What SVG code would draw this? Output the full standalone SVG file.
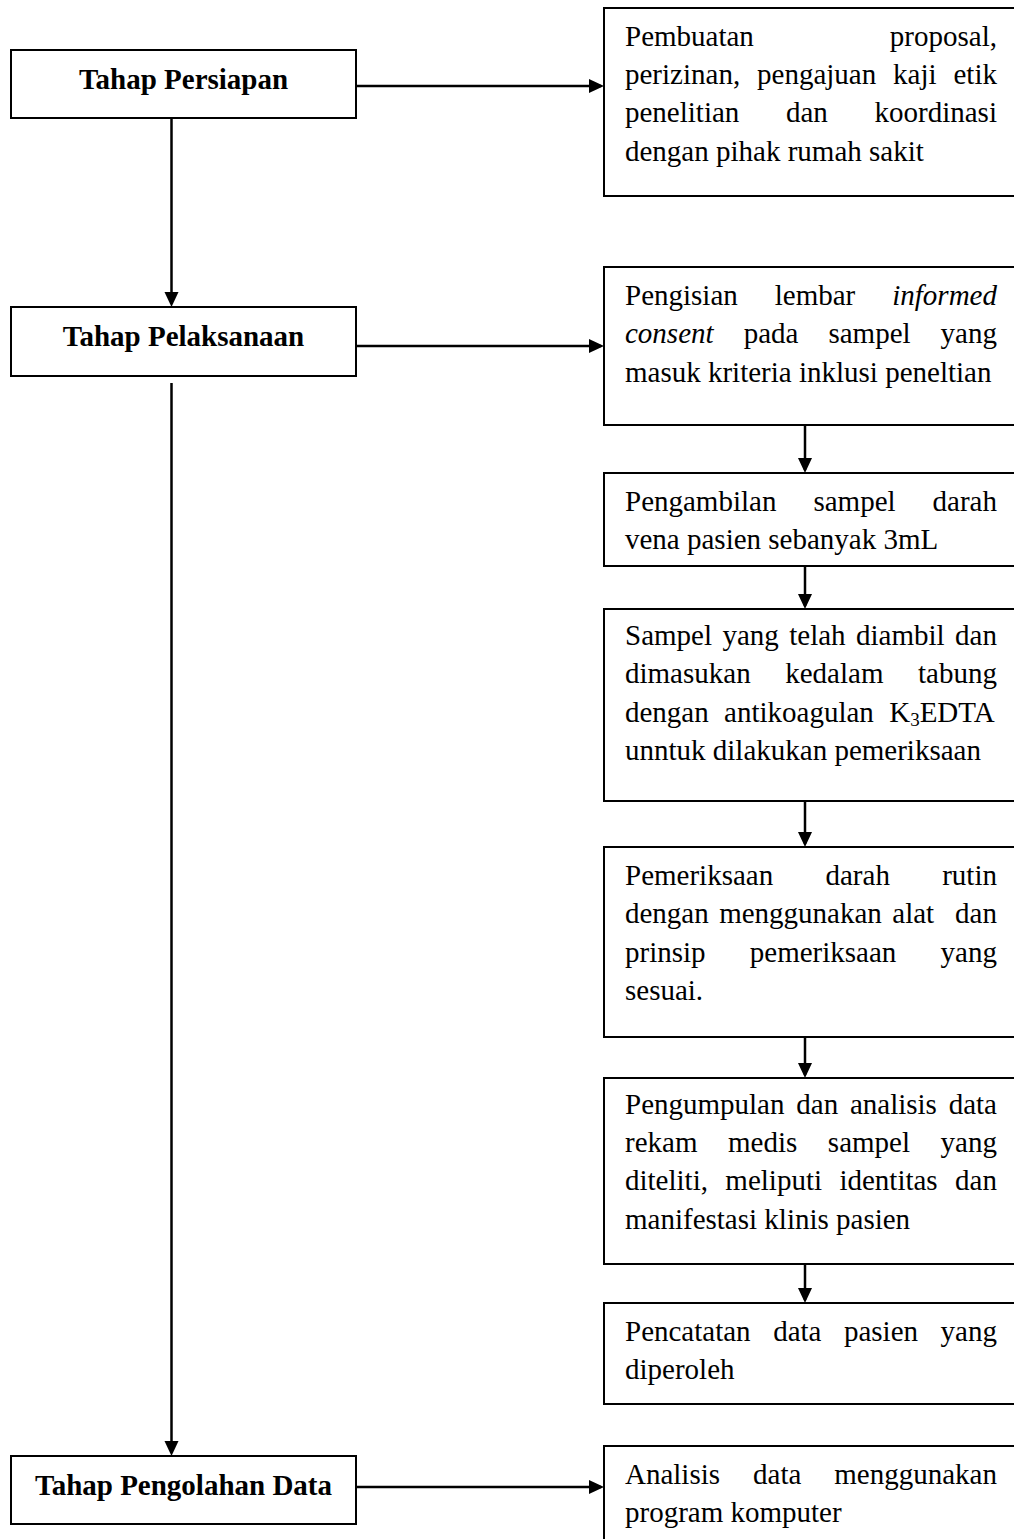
<svg xmlns="http://www.w3.org/2000/svg" width="1014" height="1539" viewBox="0 0 1014 1539">
<style>
.box{fill:#fff;stroke:#000;stroke-width:2}
.t{font-family:"Liberation Serif","Times New Roman",serif;font-size:29px;fill:#000}
.b{font-weight:bold;text-anchor:middle}
.i{font-style:italic}
.conn{stroke:#000;stroke-width:2.5;fill:none;marker-end:url(#ah)}
</style>
<defs>
<marker id="ah" markerUnits="userSpaceOnUse" markerWidth="16" markerHeight="15" refX="12" refY="7" orient="auto">
<path d="M0,0 L15,7 L0,14 z" fill="#000"/>
</marker>
</defs>
<rect width="1014" height="1539" fill="#fff"/>

<g id="connectors">
<line class="conn" x1="356" y1="86" x2="601" y2="86"/>
<line class="conn" x1="171.5" y1="118" x2="171.5" y2="304"/>
<line class="conn" x1="356" y1="346" x2="601" y2="346"/>
<line class="conn" x1="171.5" y1="383" x2="171.5" y2="1453"/>
<line class="conn" x1="356" y1="1487" x2="601" y2="1487"/>
<line class="conn" x1="805" y1="426" x2="805" y2="470"/>
<line class="conn" x1="805" y1="566" x2="805" y2="606"/>
<line class="conn" x1="805" y1="801" x2="805" y2="844"/>
<line class="conn" x1="805" y1="1037" x2="805" y2="1075"/>
<line class="conn" x1="805" y1="1264" x2="805" y2="1300"/>
</g>

<g id="tahap-persiapan">
<rect class="box" x="11" y="50" width="345" height="68"/>
<text class="t b" x="183.5" y="88.5">Tahap Persiapan</text>
</g>

<g id="tahap-pelaksanaan">
<rect class="box" x="11" y="307" width="345" height="69"/>
<text class="t b" x="183.5" y="346">Tahap Pelaksanaan</text>
</g>

<g id="tahap-pengolahan">
<rect class="box" x="11" y="1456" width="345" height="68"/>
<text class="t b" x="183.5" y="1495">Tahap Pengolahan Data</text>
</g>

<g id="persiapan-detail">
<rect class="box" x="604" y="8" width="420" height="188"/>
<text class="t" x="625" y="45.5" word-spacing="128.75">Pembuatan proposal,</text>
<text class="t" x="625" y="83.9" word-spacing="9.64">perizinan, pengajuan kaji etik</text>
<text class="t" x="625" y="122.3" word-spacing="39.4">penelitian dan koordinasi</text>
<text class="t" x="625" y="160.7">dengan pihak rumah sakit</text>
</g>

<g id="informed-consent">
<rect class="box" x="604" y="267" width="420" height="158"/>
<text class="t" x="625" y="305" word-spacing="29.73">Pengisian lembar <tspan class="i">informed</tspan></text>
<text class="t" x="625" y="343.4" word-spacing="22.79"><tspan class="i">consent</tspan> pada sampel yang</text>
<text class="t" x="625" y="381.8">masuk kriteria inklusi peneltian</text>
</g>

<g id="pengambilan-sampel">
<rect class="box" x="604" y="473" width="420" height="93"/>
<text class="t" x="625" y="510.7" word-spacing="29.75">Pengambilan sampel darah</text>
<text class="t" x="625" y="549.1">vena pasien sebanyak 3mL</text>
</g>

<g id="tabung-edta">
<rect class="box" x="604" y="609" width="420" height="192"/>
<text class="t" x="625" y="645" word-spacing="3.19">Sampel yang telah diambil dan</text>
<text class="t" x="625" y="683.4" word-spacing="27.33">dimasukan kedalam tabung</text>
<text class="t" x="625" y="721.8" word-spacing="8.09">dengan antikoagulan K<tspan font-size="19" dy="4">3</tspan><tspan dy="-4">EDTA</tspan></text>
<text class="t" x="625" y="760.2">unntuk dilakukan pemeriksaan</text>
</g>

<g id="pemeriksaan-darah">
<rect class="box" x="604" y="847" width="420" height="190"/>
<text class="t" x="625" y="885" word-spacing="45.06">Pemeriksaan darah rutin</text>
<text class="t" x="625" y="923.4" word-spacing="3.2" xml:space="preserve">dengan menggunakan alat  dan</text>
<text class="t" x="625" y="961.8" word-spacing="37">prinsip pemeriksaan yang</text>
<text class="t" x="625" y="1000.2">sesuai.</text>
</g>

<g id="rekam-medis">
<rect class="box" x="604" y="1078" width="420" height="186"/>
<text class="t" x="625" y="1113.5" word-spacing="4.52">Pengumpulan dan analisis data</text>
<text class="t" x="625" y="1151.9" word-spacing="23.32">rekam medis sampel yang</text>
<text class="t" x="625" y="1190.3" word-spacing="10.14">diteliti, meliputi identitas dan</text>
<text class="t" x="625" y="1228.7">manifestasi klinis pasien</text>
</g>

<g id="pencatatan">
<rect class="box" x="604" y="1303" width="420" height="101"/>
<text class="t" x="625" y="1340.5" word-spacing="15.28">Pencatatan data pasien yang</text>
<text class="t" x="625" y="1378.9">diperoleh</text>
</g>

<g id="analisis">
<rect class="box" x="604" y="1446" width="420" height="110"/>
<text class="t" x="625" y="1483.5" word-spacing="25.72">Analisis data menggunakan</text>
<text class="t" x="625" y="1521.9">program komputer</text>
</g>
</svg>
